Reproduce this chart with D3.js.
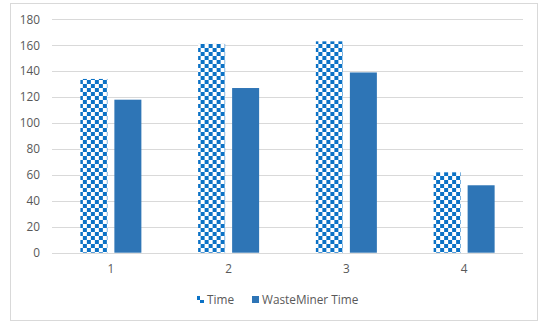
<!DOCTYPE html>
<html>
<head>
<meta charset="utf-8">
<script src="https://cdn.jsdelivr.net/npm/d3@7"></script>
<style>
  html, body { margin: 0; padding: 0; background: #fff; }
  svg { display: block; font-family: "Open Sans", "Noto Sans", sans-serif; }
</style>
</head>
<body>
<svg id="chart" width="542" height="322"></svg>
<script>
// Data
const categories = ["1", "2", "3", "4"];
const seriesNames = ["Time", "WasteMiner Time"];
const timeValues = [134, 161, 163, 62];
const wasteMinerValues = [118, 127, 139, 52];
const yTicks = [0, 20, 40, 60, 80, 100, 120, 140, 160, 180];

const svg = d3.select("#chart");
const fontSize = "11.8px";

// Chart frame
svg.append("rect")
  .attr("x", 10.5).attr("y", 3.5)
  .attr("width", 527).attr("height", 317)
  .attr("fill", "#fff").attr("stroke", "#d9d9d9").attr("stroke-width", 1);

// Checkerboard pattern for the "Time" series
const defs = svg.append("defs");
const pat = defs.append("pattern")
  .attr("id", "checker")
  .attr("patternUnits", "userSpaceOnUse")
  .attr("width", 8).attr("height", 8);
pat.append("rect").attr("width", 8).attr("height", 8).attr("fill", "#ffffff");
pat.append("rect").attr("x", 0).attr("y", 0).attr("width", 4).attr("height", 4).attr("fill", "#0b72c6");
pat.append("rect").attr("x", 4).attr("y", 4).attr("width", 4).attr("height", 4).attr("fill", "#0b72c6");

const plot = { left: 52, right: 523, top: 19.3, bottom: 252.7 };

const x0 = d3.scaleBand()
  .domain(categories)
  .range([plot.left, plot.right])
  .paddingInner(0)
  .paddingOuter(0);

const y = d3.scaleLinear()
  .domain([0, 180])
  .range([plot.bottom, plot.top]);

const barW = 27, barGap = 7;
const x1 = d3.scaleOrdinal()
  .domain(seriesNames)
  .range([-(barW + barGap / 2), barGap / 2]);

// Gridlines
svg.append("g")
  .selectAll("line")
  .data(yTicks)
  .join("line")
  .attr("x1", plot.left).attr("x2", plot.right)
  .attr("y1", d => Math.round(y(d)) + 0.5)
  .attr("y2", d => Math.round(y(d)) + 0.5)
  .attr("stroke", "#d9d9d9").attr("stroke-width", 1);

// Y axis labels
const yAxis = d3.axisLeft(y).tickValues(yTicks).tickSize(0).tickPadding(0);
const gy = svg.append("g")
  .attr("transform", `translate(${40},0)`)
  .call(yAxis);
gy.select(".domain").remove();
gy.selectAll("text")
  .attr("fill", "#595959")
  .style("font-size", fontSize)
  .style("font-family", "'Open Sans', sans-serif");

// X axis labels
const xAxis = d3.axisBottom(x0).tickSize(0).tickPadding(0);
const gx = svg.append("g")
  .attr("transform", `translate(0,${265})`)
  .call(xAxis);
gx.select(".domain").remove();
gx.selectAll("text")
  .attr("fill", "#595959")
  .style("font-size", fontSize)
  .style("font-family", "'Open Sans', sans-serif");

// Bars
const rows = categories.map((c, i) => ({
  cat: c,
  values: [
    { key: "Time", value: timeValues[i] },
    { key: "WasteMiner Time", value: wasteMinerValues[i] }
  ]
}));

const fills = { "Time": "url(#checker)", "WasteMiner Time": "#2e75b6" };

svg.append("g")
  .selectAll("g")
  .data(rows)
  .join("g")
  .attr("transform", d => `translate(${x0(d.cat) + x0.bandwidth() / 2},0)`)
  .selectAll("rect")
  .data(d => d.values)
  .join("rect")
  .attr("x", d => x1(d.key))
  .attr("y", d => y(d.value))
  .attr("width", barW)
  .attr("height", d => y(0) - y(d.value))
  .attr("fill", d => fills[d.key]);

// Legend
const legend = svg.append("g").attr("transform", "translate(0,300)");
const legendItems = [
  { key: "Time", x: 197, tx: 207 },
  { key: "WasteMiner Time", x: 252, tx: 262 }
];
legend.selectAll("rect")
  .data(legendItems)
  .join("rect")
  .attr("x", d => d.x)
  .attr("y", -4)
  .attr("width", 7).attr("height", 7)
  .attr("fill", d => fills[d.key]);
legend.selectAll("text")
  .data(legendItems)
  .join("text")
  .attr("x", d => d.tx)
  .attr("y", 0)
  .attr("dy", "0.35em")
  .attr("fill", "#595959")
  .style("font-size", fontSize)
  .text(d => d.key);
</script>
</body>
</html>
